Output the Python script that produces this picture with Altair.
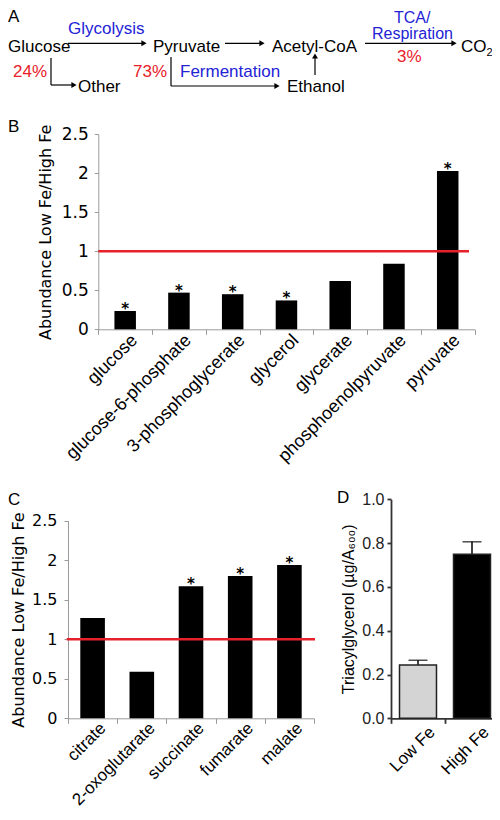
import altair as alt
import pandas as pd

W, H = 484, 800

# ---------------- data ----------------
b_metabolites = ["glucose", "glucose-6-phosphate", "3-phosphoglycerate", "glycerol",
                 "glycerate", "phosphoenolpyruvate", "pyruvate"]
b_ratio = [0.235, 0.47, 0.45, 0.37, 0.62, 0.84, 2.03]
b_signif = [True, True, True, True, False, False, True]

c_metabolites = ["citrate", "2-oxoglutarate", "succinate", "fumarate", "malate"]
c_ratio = [1.27, 0.59, 1.67, 1.80, 1.94]
c_signif = [False, False, True, True, True]

d_condition = ["Low Fe", "High Fe"]
d_tag = [0.243, 0.749]
d_err = [0.022, 0.057]

reference_ratio = [1.0]
ratio_ticks = [0, 0.5, 1, 1.5, 2, 2.5]
tag_ticks = [0, 0.2, 0.4, 0.6, 0.8, 1.0]

# panel A pathway diagram (labels and their layout)
diagram_text = ["A", "Glucose", "Glycolysis", "Pyruvate", "Acetyl-CoA", "TCA/", "Respiration",
                "3%", "CO", "2", "24%", "Other", "73%", "Fermentation", "Ethanol", "B", "C", "D"]
diagram_kind = ["panel", "node", "pathway", "node", "node", "pathway", "pathway",
                "yield", "node", "node", "yield", "node", "yield", "pathway", "node",
                "panel", "panel", "panel"]
diagram_tx = [0, 0, 60, 145, 264, 386, 364, 389, 453, 478.5, 5, 70, 125, 172, 279, 0, 0, 329]
diagram_ty = [14, 43.5, 26.3, 43.5, 43.5, 14.5, 31, 53.7, 43.5, 47.5, 68.7, 83.7, 68.7, 68.7,
              83.7, 123.7, 497, 495]
diagram_fs = [17, 17, 17, 17, 17, 16, 16, 17, 17, 11, 17, 17, 17, 17, 17, 17, 17, 17]

seg_x = [60, 217, 357, 43, 43, 163, 163, 307]
seg_y = [35.3, 35.3, 35.3, 50, 77, 49, 78, 67]
seg_x2 = [136, 254, 446, 43, 66, 163, 269, 307]
seg_y2 = [35.3, 35.3, 35.3, 77, 77, 78, 78, 48]

head_x = [136, 254, 446, 66, 269, 307]
head_y = [35.3, 35.3, 35.3, 77, 78, 48]
head_shape = ["triangle-right"] * 5 + ["triangle-up"]

# plot-area frames of panels B, C, D (pixels)
B_X, B_Y, B_RULE = [90.3, 466.6], [321.3, 126.3], [90.3, 461]
C_X, C_Y, C_RULE = [60.0, 306.0], [710.3, 512.7], [58.7, 307]
D_X, D_Y = [383.0, 491.0], [710.3, 491.3]

GREY = "#9a9a9a"
RED = "#e8202a"
BLUE = "#2323d6"

# ---------------- panel A ----------------
dx = alt.Scale(domain=[0, W], range=[0, W])
dy = alt.Scale(domain=[0, H], range=[0, H])

texts = alt.Chart(pd.DataFrame({"t": diagram_text, "k": diagram_kind, "x": diagram_tx,
                                "y": diagram_ty, "fs": diagram_fs})).mark_text(
    align="left", baseline="alphabetic", font="Liberation Sans").encode(
    x=alt.X("x:Q", scale=dx, axis=None),
    y=alt.Y("y:Q", scale=dy, axis=None),
    text="t:N",
    size=alt.Size("fs:Q", scale=None),
    color=alt.Color("k:N", scale=alt.Scale(domain=["node", "pathway", "yield", "panel"],
                                           range=["black", BLUE, RED, "black"]), legend=None),
)
lines = alt.Chart(pd.DataFrame({"x": seg_x, "y": seg_y, "x2": seg_x2, "y2": seg_y2})).mark_rule(
    color="black", strokeWidth=1.2).encode(
    x=alt.X("x:Q", scale=dx, axis=None), y=alt.Y("y:Q", scale=dy, axis=None),
    x2="x2:Q", y2="y2:Q")
heads = alt.Chart(pd.DataFrame({"x": head_x, "y": head_y, "s": head_shape})).mark_point(
    filled=True, color="black", size=36, opacity=1).encode(
    x=alt.X("x:Q", scale=dx, axis=None), y=alt.Y("y:Q", scale=dy, axis=None),
    shape=alt.Shape("s:N", scale=None))
diagram = alt.layer(lines, heads, texts)


def ratio_axes(xr, yr, label_offset, xlab_size, ylab_size, lab_pad, title_pad, xpad):
    xs = alt.X("metabolite:N", sort=None,
               scale=alt.Scale(range=xr, paddingInner=0, paddingOuter=0),
               axis=alt.Axis(orient="bottom", offset=yr[0] - H, tickBand="extent",
                             labelAngle=-45, labelAlign="right", labelBaseline="middle",
                             labelFont="Liberation Sans", labelFontSize=xlab_size,
                             labelColor="black",
                             labelOffset=label_offset, labelPadding=xpad, labelOverlap=False,
                             labelLimit=400, tickSize=5, tickColor=GREY, domainColor=GREY,
                             title=None, grid=False))
    ys = alt.Y("ratio:Q",
               scale=alt.Scale(domain=[0, 2.5], range=yr, nice=False, zero=True),
               axis=alt.Axis(orient="left", offset=-xr[0], values=ratio_ticks, format="~g",
                             labelFont="DejaVu Sans", labelFontSize=ylab_size,
                             labelColor="black",
                             labelPadding=lab_pad, tickSize=4, tickColor=GREY, domainColor=GREY,
                             grid=False, title="Abundance Low Fe/High Fe",
                             titleFont="DejaVu Sans", titleFontSize=16,
                             titleFontWeight="normal", titleColor="black",
                             titlePadding=title_pad))
    return xs, ys


def ratio_panel(names, values, sig, xr, yr, band, label_offset, xlab_size, ylab_size,
                lab_pad, title_pad, xpad):
    df = pd.DataFrame({"metabolite": names, "ratio": values, "sig": sig})
    xs, ys = ratio_axes(xr, yr, label_offset, xlab_size, ylab_size, lab_pad, title_pad, xpad)
    base = alt.Chart(df)
    bars = base.mark_bar(color="black", width=alt.RelativeBandSize(band)).encode(x=xs, y=ys)
    stars = base.transform_filter("datum.sig").mark_text(
        text="*", font="DejaVu Sans", fontWeight="bold", fontSize=15,
        baseline="alphabetic", dy=3, color="black").encode(x=xs, y=ys)
    return alt.layer(bars, stars)


def ref_rule(xr, yr):
    df = pd.DataFrame({"lo": [0], "hi": [1], "ref": reference_ratio})
    return alt.Chart(df).mark_rule(color=RED, strokeWidth=2.5).encode(
        x=alt.X("lo:Q", scale=alt.Scale(domain=[0, 1], range=xr), axis=None),
        x2="hi:Q",
        y=alt.Y("ref:Q", scale=alt.Scale(domain=[0, 2.5], range=yr, nice=False), axis=None))


panel_b = ratio_panel(b_metabolites, b_ratio, b_signif, B_X, B_Y, 0.4, 9, 18, 17, 6, 8, 3)
rule_b = ref_rule(B_RULE, B_Y)
panel_c = ratio_panel(c_metabolites, c_ratio, c_signif, C_X, C_Y, 0.5, 10, 17, 16, 7, 5, 2)
rule_c = ref_rule(C_RULE, C_Y)

# ---------------- panel D ----------------
DARK = "#333333"
df_d = pd.DataFrame({"condition": d_condition, "tag": d_tag, "err": d_err})
xd = alt.X("condition:N", sort=None,
           scale=alt.Scale(range=D_X, paddingInner=0, paddingOuter=0),
           axis=alt.Axis(orient="bottom", offset=D_Y[0] - H, tickBand="extent",
                         labelAngle=-45, labelAlign="right", labelBaseline="middle",
                         labelFont="Liberation Sans", labelFontSize=17, labelColor="black",
                         labelOffset=14, labelPadding=6, labelOverlap=False,
                         tickSize=5, tickColor=DARK, tickWidth=1.8,
                         domainColor=DARK, domainWidth=1.8, title=None, grid=False))
yd = alt.Y("tag:Q", scale=alt.Scale(domain=[0, 1], range=D_Y, nice=False),
           axis=alt.Axis(orient="left", offset=-D_X[0], values=tag_ticks, format=".1f",
                         labelFont="Liberation Sans", labelFontSize=16, labelColor="#222222",
                         labelPadding=3, tickSize=4, tickColor=DARK, tickWidth=1.8,
                         domainColor=DARK, domainWidth=1.8, grid=False,
                         title="Triacylglycerol (µg/A₆₀₀)", titleFont="Liberation Sans",
                         titleFontSize=16, titleFontWeight="normal", titleColor="black",
                         titlePadding=5))
base_d = alt.Chart(df_d).transform_calculate(top="datum.tag + datum.err")
bars_d = base_d.mark_bar(stroke="#222222", strokeWidth=1.5,
                         width=alt.RelativeBandSize(0.685)).encode(
    x=xd, y=yd,
    color=alt.Color("condition:N", scale=alt.Scale(domain=d_condition,
                                                   range=["#d4d4d4", "#000000"]), legend=None))
err_d = base_d.mark_rule(color="black", strokeWidth=1.5).encode(x=xd, y=yd, y2="top:Q")
cap_d = base_d.mark_tick(color="black", thickness=1.5, size=19).encode(x=xd, y=alt.Y("top:Q"))
panel_d = alt.layer(err_d, cap_d, bars_d)

chart = alt.layer(diagram, panel_b, rule_b, panel_c, rule_c, panel_d).resolve_scale(
    x="independent", y="independent", color="independent", size="independent",
    shape="independent"
).properties(
    width=W, height=H, autosize=alt.AutoSizeParams(type="none"), padding=0
).configure_view(stroke=None)

chart.save("out.html", embed_options={"renderer": "svg", "actions": False})
